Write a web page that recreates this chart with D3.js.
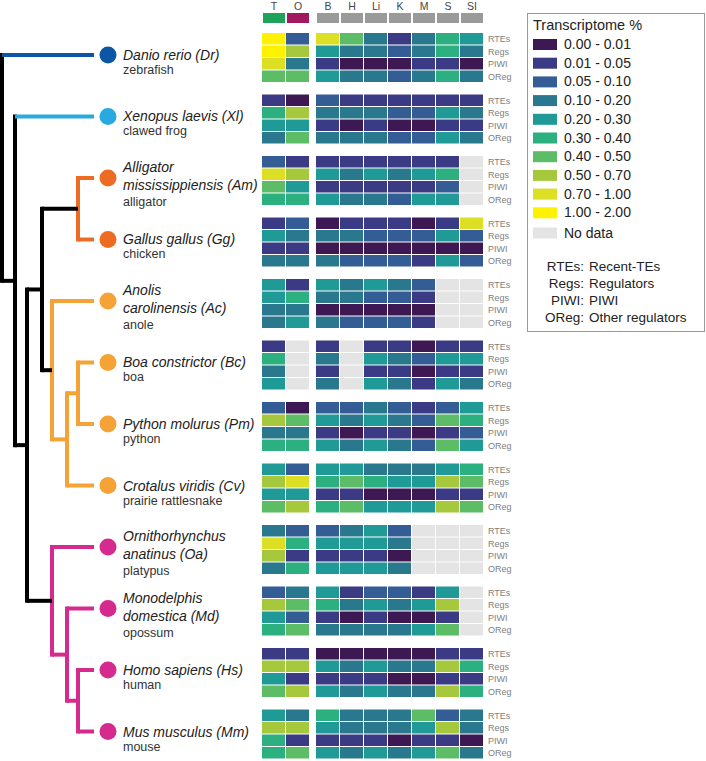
<!DOCTYPE html>
<html>
<head>
<meta charset="utf-8">
<script src="https://cdn.jsdelivr.net/npm/d3@7"></script>
<style>
  body { margin: 0; background: #fff; }
  text { font-family: "Liberation Sans", Arial, sans-serif; }
</style>
</head>
<body>
<svg width="706" height="761"></svg>
<script>
var speciesIds = ["Dr", "Xl", "Am", "Gg", "Ac", "Bc", "Pm", "Cv", "Oa", "Md", "Hs", "Mm"];
var speciesNames = [
  ["Danio rerio (Dr)"], ["Xenopus laevis (Xl)"], ["Alligator", "mississippiensis (Am)"],
  ["Gallus gallus (Gg)"], ["Anolis", "carolinensis (Ac)"], ["Boa constrictor (Bc)"],
  ["Python molurus (Pm)"], ["Crotalus viridis (Cv)"], ["Ornithorhynchus", "anatinus (Oa)"],
  ["Monodelphis", "domestica (Md)"], ["Homo sapiens (Hs)"], ["Mus musculus (Mm)"]
];
var commonNames = ["zebrafish", "clawed frog", "alligator", "chicken", "anole", "boa", "python",
  "prairie rattlesnake", "platypus", "opossum", "human", "mouse"];
var tissues = ["T", "O", "B", "H", "Li", "K", "M", "S", "SI"];
var tissueColors = ["#1fa35b", "#a3195f", "#9a9a9a", "#9a9a9a", "#9a9a9a", "#9a9a9a", "#9a9a9a", "#9a9a9a", "#9a9a9a"];
var rowTypes = ["RTEs", "Regs", "PIWI", "OReg"];
var rowNames = ["Recent-TEs", "Regulators", "PIWI", "Other regulators"];
var binEdges = [0.01, 0.05, 0.1, 0.2, 0.3, 0.4, 0.5, 0.7, 1.0];
var binLabels = ["0.00 - 0.01", "0.01 - 0.05", "0.05 - 0.10", "0.10 - 0.20", "0.20 - 0.30",
  "0.30 - 0.40", "0.40 - 0.50", "0.50 - 0.70", "0.70 - 1.00", "1.00 - 2.00"];
var binColors = ["#3d1852", "#3b3a84", "#355d95", "#2a788e", "#209a96", "#2cb07f",
  "#5cbd66", "#a5c83c", "#dcdf24", "#fff200"];
var noDataColor = "#e4e4e4";

// transcriptome % per species (rows) and tissue (columns), null = no data
var rtes = [
  [1.5, 0.07, 0.85, 0.45, 0.15, 0.03, 0.15, 0.35, 0.25],
  [0.03, 0.005, 0.07, 0.03, 0.03, 0.03, 0.03, 0.03, 0.03],
  [0.07, 0.03, 0.03, 0.03, 0.03, 0.03, 0.03, 0.03, null],
  [0.03, 0.07, 0.005, 0.03, 0.03, 0.03, 0.005, 0.03, 0.85],
  [0.25, 0.03, 0.25, 0.15, 0.25, 0.15, 0.07, null, null],
  [0.03, null, 0.03, null, 0.03, 0.03, 0.005, 0.03, 0.03],
  [0.07, 0.005, 0.07, 0.07, 0.15, 0.07, 0.03, 0.07, 0.25],
  [0.25, 0.07, 0.25, 0.25, 0.15, 0.15, 0.15, 0.25, 0.35],
  [0.15, 0.07, 0.07, 0.15, 0.25, 0.07, null, null, null],
  [0.07, 0.15, 0.25, 0.03, 0.07, 0.07, 0.03, 0.25, null],
  [0.03, 0.03, 0.005, 0.005, 0.005, 0.005, 0.005, 0.03, 0.03],
  [0.25, 0.15, 0.35, 0.15, 0.15, 0.15, 0.45, 0.07, 0.15]
];
var regs = [
  [1.5, 0.6, 0.25, 0.15, 0.15, 0.07, 0.15, 0.35, 0.15],
  [0.35, 0.6, 0.15, 0.15, 0.15, 0.07, 0.07, 0.25, 0.15],
  [0.85, 0.6, 0.25, 0.15, 0.25, 0.15, 0.25, 0.35, null],
  [0.25, 0.15, 0.15, 0.15, 0.07, 0.07, 0.07, 0.25, 0.07],
  [0.25, 0.35, 0.15, 0.15, 0.07, 0.07, 0.03, null, null],
  [0.35, null, 0.15, null, 0.25, 0.15, 0.07, 0.25, 0.25],
  [0.6, 0.45, 0.25, 0.15, 0.25, 0.15, 0.07, 0.45, 0.35],
  [0.6, 0.85, 0.35, 0.45, 0.35, 0.25, 0.25, 0.6, 0.45],
  [0.85, 0.35, 0.25, 0.25, 0.25, 0.15, null, null, null],
  [0.6, 0.45, 0.35, 0.15, 0.25, 0.15, 0.25, 0.6, null],
  [0.6, 0.6, 0.25, 0.15, 0.25, 0.15, 0.15, 0.6, 0.35],
  [0.6, 0.6, 0.25, 0.15, 0.15, 0.15, 0.25, 0.6, 0.15]
];
var piwi = [
  [0.85, 0.15, 0.03, 0.005, 0.005, 0.005, 0.03, 0.03, 0.005],
  [0.25, 0.25, 0.03, 0.005, 0.03, 0.005, 0.005, 0.03, 0.03],
  [0.45, 0.25, 0.03, 0.03, 0.03, 0.03, 0.03, 0.07, null],
  [0.03, 0.03, 0.005, 0.005, 0.005, 0.005, 0.005, 0.005, 0.005],
  [0.15, 0.15, 0.005, 0.005, 0.005, 0.005, 0.005, null, null],
  [0.15, null, 0.03, null, 0.03, 0.03, 0.005, 0.03, 0.03],
  [0.15, 0.15, 0.03, 0.005, 0.03, 0.03, 0.005, 0.03, 0.07],
  [0.25, 0.25, 0.03, 0.03, 0.005, 0.005, 0.005, 0.03, 0.03],
  [0.6, 0.03, 0.03, 0.03, 0.03, 0.005, null, null, null],
  [0.25, 0.07, 0.03, 0.005, 0.03, 0.005, 0.005, 0.03, null],
  [0.25, 0.03, 0.03, 0.03, 0.03, 0.005, 0.005, 0.03, 0.03],
  [0.35, 0.03, 0.03, 0.03, 0.03, 0.005, 0.03, 0.03, 0.005]
];
var oreg = [
  [0.45, 0.45, 0.25, 0.15, 0.15, 0.07, 0.15, 0.35, 0.15],
  [0.15, 0.45, 0.15, 0.15, 0.15, 0.07, 0.07, 0.25, 0.15],
  [0.35, 0.35, 0.25, 0.15, 0.15, 0.07, 0.25, 0.25, null],
  [0.15, 0.15, 0.15, 0.07, 0.07, 0.07, 0.03, 0.25, 0.07],
  [0.15, 0.25, 0.15, 0.07, 0.07, 0.07, 0.03, null, null],
  [0.25, null, 0.15, null, 0.25, 0.15, 0.03, 0.25, 0.15],
  [0.35, 0.35, 0.25, 0.15, 0.25, 0.15, 0.07, 0.45, 0.25],
  [0.45, 0.6, 0.35, 0.45, 0.25, 0.25, 0.25, 0.6, 0.45],
  [0.15, 0.35, 0.25, 0.25, 0.25, 0.15, null, null, null],
  [0.35, 0.45, 0.15, 0.15, 0.15, 0.15, 0.25, 0.45, null],
  [0.45, 0.6, 0.25, 0.15, 0.25, 0.15, 0.15, 0.6, 0.35],
  [0.35, 0.45, 0.25, 0.15, 0.25, 0.15, 0.25, 0.45, 0.15]
];

// species tree, x = branch position of each internal node
var tree = {x: 2, color: "#000", children: [
  {leaf: "Dr", color: "#0c56a4"},
  {x: 15, children: [
    {leaf: "Xl", color: "#29a9e0"},
    {x: 27, children: [
      {x: 42, children: [
        {x: 78, color: "#ee6b24", children: [{leaf: "Am"}, {leaf: "Gg"}]},
        {x: 52, color: "#f5a236", children: [
          {leaf: "Ac"},
          {x: 67, children: [
            {x: 78, children: [{leaf: "Bc"}, {leaf: "Pm"}]},
            {leaf: "Cv"}
          ]}
        ]}
      ]},
      {x: 52, color: "#d52a8e", children: [
        {leaf: "Oa"},
        {x: 67, children: [
          {leaf: "Md"},
          {x: 78, children: [{leaf: "Hs"}, {leaf: "Mm"}]}
        ]}
      ]}
    ]}
  ]}
]};

var svg = d3.select("svg");
var color = d3.scaleThreshold().domain(binEdges).range(binColors);
var y = d3.scaleBand().domain(speciesIds).range([33, 759.5]).paddingInner(0.187);
var yRow = d3.scaleBand().domain(rowTypes).range([0, y.bandwidth()]);
var xBand = d3.scaleBand().domain(tissues).range([262, 478]);
var x = function(t) { return xBand(t) + (tissues.indexOf(t) >= 2 ? 6 : 0); };
var cw = xBand.bandwidth();
var rowData = [rtes, regs, piwi, oreg];

// header
var header = svg.append("g");
header.selectAll("text").data(tissues).join("text")
  .attr("x", function(d) { return x(d) + cw / 2; })
  .attr("y", 10)
  .attr("text-anchor", "middle")
  .attr("font-size", 10.5)
  .attr("fill", "#444")
  .text(function(d) { return d; });
header.selectAll("rect").data(tissues).join("rect")
  .attr("x", function(d) { return x(d) + 1; })
  .attr("y", 13)
  .attr("width", cw - 2)
  .attr("height", 10)
  .attr("fill", function(d, i) { return tissueColors[i]; });

// heatmap cells
var cells = [];
speciesIds.forEach(function(sp, si) {
  rowTypes.forEach(function(r, ri) {
    tissues.forEach(function(t, ti) {
      cells.push({sp: sp, row: r, tissue: t, value: rowData[ri][si][ti]});
    });
  });
});
svg.append("g").selectAll("rect").data(cells).join("rect")
  .attr("x", function(d) { return x(d.tissue); })
  .attr("y", function(d) { return y(d.sp) + yRow(d.row); })
  .attr("width", cw - 1)
  .attr("height", yRow.bandwidth() - 1)
  .attr("fill", function(d) { return d.value == null ? noDataColor : color(d.value); });

// row labels
var rowLabels = [];
speciesIds.forEach(function(sp) {
  rowTypes.forEach(function(r) { rowLabels.push({sp: sp, row: r}); });
});
svg.append("g").selectAll("text").data(rowLabels).join("text")
  .attr("x", 488)
  .attr("y", function(d) { return y(d.sp) + yRow(d.row) + yRow.bandwidth() / 2 + 3; })
  .attr("font-size", 9)
  .attr("fill", "#808080")
  .text(function(d) { return d.row; });

// tree
var center = function(sp) { return y(sp) + y.bandwidth() / 2; };
var root = d3.hierarchy(tree);
root.eachBefore(function(n) {
  if (!n.data.color) n.data.color = n.parent.data.color;
});
root.eachAfter(function(n) {
  if (n.data.leaf) {
    n.px = 94;
    n.py = center(n.data.leaf) - 3;
  } else {
    n.px = n.data.x;
    n.py = (n.children[0].py + n.children[n.children.length - 1].py) / 2;
  }
});
var tg = svg.append("g").attr("fill", "none").attr("stroke-width", 4);
root.descendants().forEach(function(n) {
  if (n.children) {
    tg.append("line")
      .attr("x1", n.px).attr("x2", n.px)
      .attr("y1", n.children[0].py - 2)
      .attr("y2", n.children[n.children.length - 1].py + 2)
      .attr("stroke", n.data.color);
  }
  if (n.parent) {
    tg.append("line")
      .attr("x1", n.parent.px).attr("x2", n.px)
      .attr("y1", n.py).attr("y2", n.py)
      .attr("stroke", n.data.leaf ? n.data.color : n.parent.data.color);
  }
});
svg.append("g").selectAll("circle").data(root.leaves()).join("circle")
  .attr("cx", 108)
  .attr("cy", function(d) { return d.py; })
  .attr("r", 8.5)
  .attr("fill", function(d) { return d.data.color; });

// species labels
var labels = svg.append("g").selectAll("g").data(speciesIds).join("g")
  .attr("transform", function(d) { return "translate(123," + center(d) + ")"; });
labels.each(function(sp, i) {
  var g = d3.select(this);
  var lines = speciesNames[i];
  var multi = lines.length > 1;
  lines.forEach(function(l, k) {
    g.append("text")
      .attr("y", multi ? -9 + k * 18 : 2)
      .attr("font-size", 14)
      .attr("font-style", "italic")
      .attr("fill", "#222")
      .text(l);
  });
  g.append("text")
    .attr("y", multi ? 25 : 16)
    .attr("font-size", 12.5)
    .attr("fill", "#333")
    .text(commonNames[i]);
});

// legend
var lg = svg.append("g");
lg.append("rect")
  .attr("x", 527.5).attr("y", 13.5)
  .attr("width", 177).attr("height", 318)
  .attr("fill", "#fff").attr("stroke", "#999");
lg.append("text")
  .attr("x", 533).attr("y", 30)
  .attr("font-size", 14.5).attr("fill", "#222")
  .text("Transcriptome %");
var items = binLabels.map(function(l, i) { return {label: l, color: binColors[i]}; })
  .concat([{label: "No data", color: noDataColor}]);
var li = lg.selectAll("g.item").data(items).join("g")
  .attr("class", "item")
  .attr("transform", function(d, i) { return "translate(533," + (39 + i * 18.7 + (i === 10 ? 1.5 : 0)) + ")"; });
li.append("rect").attr("width", 24).attr("height", 11).attr("fill", function(d) { return d.color; });
li.append("text").attr("x", 31).attr("y", 10).attr("font-size", 14).attr("fill", "#222")
  .text(function(d) { return d.label; });
var ab = lg.selectAll("g.abbr").data(rowTypes).join("g")
  .attr("class", "abbr")
  .attr("transform", function(d, i) { return "translate(0," + (271 + i * 17) + ")"; });
ab.append("text").attr("x", 584).attr("text-anchor", "end").attr("font-size", 13.5).attr("fill", "#222")
  .text(function(d) { return d + ":"; });
ab.append("text").attr("x", 589).attr("font-size", 13.5).attr("fill", "#222")
  .text(function(d, i) { return rowNames[i]; });
</script>
</body>
</html>
